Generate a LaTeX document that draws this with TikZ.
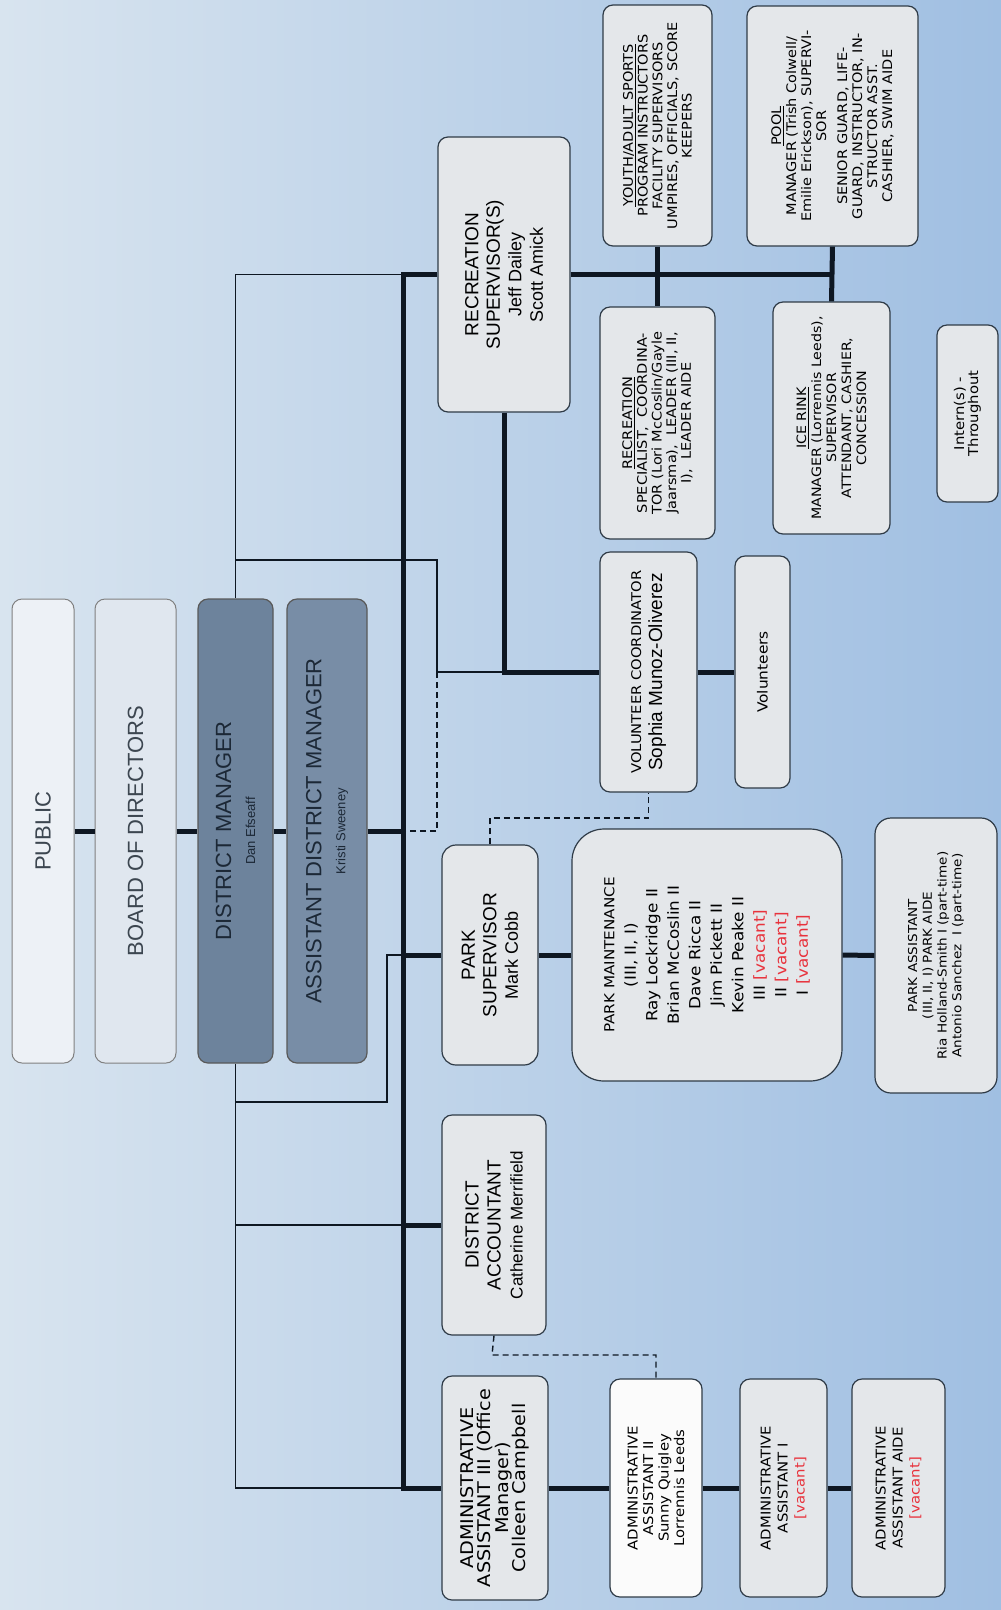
\documentclass[tikz,border=0pt]{standalone}
\usepackage{fontspec}
\setmainfont{Liberation Sans}
\newfontfamily\vf[FakeStretch=1.1]{DejaVu Sans}
\definecolor{bgL}{HTML}{D8E4EF}
\definecolor{bgR}{HTML}{A0BFE2}
\definecolor{lnk}{HTML}{0E1722}
\definecolor{bdr}{HTML}{2F3B47}
\definecolor{bfill}{HTML}{E4E7EA}
\definecolor{dmfill}{HTML}{6D839C}
\definecolor{admfill}{HTML}{788DA6}
\definecolor{pubfill}{HTML}{EDF1F6}
\definecolor{bodfill}{HTML}{E0E7EF}
\definecolor{pubtext}{HTML}{3C4650}
\definecolor{dmtext}{HTML}{1C2836}
\definecolor{vac}{HTML}{E8323C}
\newcommand\rt[3]{\rotatebox{90}{\parbox[c]{#1}{\centering\lineskiplimit=-50pt\lineskip=0pt\relax #2#3\par}}}
\tikzset{
  box/.style={draw=bdr, line width=1.2pt, fill=bfill, rounded corners=10pt, inner sep=0pt, text=black},
  topbox/.style={box, draw=black!50, line width=1pt},
  thick/.style={draw=lnk, line width=5pt},
  thin/.style={draw=lnk, line width=1.4pt},
  dsh/.style={draw=lnk, line width=1.4pt, dash pattern=on 6pt off 4pt}
}
\begin{document}
\begin{tikzpicture}[x=1pt,y=-1pt]
\useasboundingbox (0,0) rectangle (1001,1610);
\shade[left color=bgL, right color=bgR] (0,0) rectangle (1001,1610);

% top column
\node[topbox, fill=pubfill, minimum width=62pt, minimum height=464pt] (pub) at (43,831)
  {\rt{450pt}{\fontsize{22}{26}\selectfont\color{pubtext}}{PUBLIC}};
\node[topbox, fill=bodfill, minimum width=81pt, minimum height=464pt] (bod) at (135.5,831)
  {\rt{450pt}{\fontsize{22}{26}\selectfont\color{pubtext}}{BOARD OF DIRECTORS}};
\node[box, draw=black!65, fill=dmfill, minimum width=75pt, minimum height=464pt] (dm) at (235.5,831)
  {\rt{450pt}{\fontsize{22}{24}\selectfont\color{dmtext}}{DISTRICT MANAGER\\{\fontsize{13}{24}\selectfont Dan Efseaff}}};
\node[box, draw=black!65, fill=admfill, minimum width=80pt, minimum height=464pt] (adm) at (327,831)
  {\rt{450pt}{\fontsize{22}{24}\selectfont\color{dmtext}}{ASSISTANT DISTRICT MANAGER\\{\fontsize{13}{24}\selectfont Kristi Sweeney}}};

% recreation
\node[box, minimum width=132pt, minimum height=275pt] (rs) at (504,274.5)
  {\rt{265pt}{\fontsize{19}{21.5}\selectfont}{RECREATION\\SUPERVISOR(S)\\{\fontsize{18}{21.5}\selectfont Jeff Dailey}\\{\fontsize{18}{21.5}\selectfont Scott Amick}}};
\node[box, minimum width=109pt, minimum height=241pt] (yas) at (657.5,125.5)
  {\rt{236pt}{\vf\fontsize{13.2}{14.7}\selectfont}{\underline{YOUTH/ADULT SPORTS}\\PROGRAM INSTRUCTORS\\FACILITY SUPERVISORS\\UMPIRES, OFFICIALS, SCORE\\KEEPERS}};
\node[box, minimum width=171pt, minimum height=240pt] (pool) at (832.5,126)
  {\rt{236pt}{\vf\fontsize{13.2}{15}\selectfont}{\underline{POOL}\\MANAGER (Trish Colwell/\\Emilie Erickson), SUPERVI-\\SOR\\[6pt]SENIOR GUARD, LIFE-\\GUARD, INSTRUCTOR, IN-\\STRUCTOR ASST.\\CASHIER, SWIM AIDE}};
\node[box, minimum width=115pt, minimum height=232pt] (rec) at (657.5,423)
  {\rt{228pt}{\vf\fontsize{13.2}{14.7}\selectfont}{\underline{RECREATION}\\SPECIALIST,~ COORDINA-\\TOR (Lori McCoslin/Gayle\\Jaarsma),~ LEADER (III, II,\\I),~ LEADER AIDE}};
\node[box, minimum width=117pt, minimum height=232pt] (ice) at (831.5,418)
  {\rt{228pt}{\vf\fontsize{12.9}{15}\selectfont}{\underline{ICE RINK}\\MANAGER (Lorrennis Leeds),\\SUPERVISOR\\ATTENDANT, CASHIER,\\CONCESSION}};
\node[box, minimum width=61pt, minimum height=177pt] (intern) at (967.5,413.5)
  {\rt{170pt}{\vf\fontsize{13.5}{14}\selectfont}{Intern(s) -\\Throughout}};
\node[box, minimum width=97pt, minimum height=240pt] (vc) at (648.5,672)
  {\rt{234pt}{\vf\fontsize{13.4}{21}\selectfont}{VOLUNTEER COORDINATOR\\{\rmfamily\fontsize{19}{21}\selectfont Sophia Munoz-Oliverez}}};
\node[box, minimum width=55pt, minimum height=232pt] (vol) at (762.5,672)
  {\rt{226pt}{\vf\fontsize{14}{16}\selectfont}{Volunteers}};

% parks
\node[box, rounded corners=14pt, minimum width=96pt, minimum height=220pt] (ps) at (490,955)
  {\rt{214pt}{\fontsize{19}{21.5}\selectfont}{PARK\\SUPERVISOR\\{\fontsize{18}{21.5}\selectfont Mark Cobb}}};
\node[box, rounded corners=32pt, minimum width=270pt, minimum height=252pt] (pm) at (707,955)
  {\rt{244pt}{\vf\fontsize{15.3}{21.5}\selectfont}{{\fontsize{13.8}{21.5}\selectfont PARK MAINTENANCE}\\(III, II, I)\\Ray Lockridge II\\Brian McCoslin II\\Dave Ricca II\\Jim Pickett II\\Kevin Peake II\\III \textcolor{vac}{[vacant]}\\II \textcolor{vac}{[vacant]}\\I \textcolor{vac}{[vacant]}}};
\node[box, rounded corners=16pt, minimum width=122pt, minimum height=275pt] (pa) at (936,955.5)
  {\rt{268pt}{\vf\fontsize{12.3}{14.7}\selectfont}{PARK ASSISTANT\\(III, II, I) PARK AIDE\\Ria Holland-Smith I (part-time)\\Antonio Sanchez~ I (part-time)}};

% admin
\node[box, minimum width=104pt, minimum height=220pt] (da) at (494,1225)
  {\rt{214pt}{\fontsize{19}{22}\selectfont}{DISTRICT\\ACCOUNTANT\\{\fontsize{17}{22}\selectfont Catherine Merrifield}}};
\node[box, minimum width=106pt, minimum height=224pt] (aa3) at (495,1488)
  {\rt{220pt}{\vf\fontsize{17.5}{17.5}\selectfont}{ADMINISTRATIVE\\ASSISTANT III (Office\\Manager)\\Colleen Campbell}};
\node[box, fill=white!97!gray, minimum width=92pt, minimum height=218pt] (aa2) at (656,1488)
  {\rt{212pt}{\vf\fontsize{13.5}{15.5}\selectfont}{ADMINISTRATIVE\\ASSISTANT II\\Sunny Quigley\\Lorrennis Leeds}};
\node[box, minimum width=87pt, minimum height=218pt] (aa1) at (783.5,1488)
  {\rt{212pt}{\vf\fontsize{13.5}{17}\selectfont}{ADMINISTRATIVE\\ASSISTANT I\\\textcolor{vac}{[vacant]}}};
\node[box, minimum width=93pt, minimum height=218pt] (aide) at (898.5,1488)
  {\rt{212pt}{\vf\fontsize{13.5}{17}\selectfont}{ADMINISTRATIVE\\ASSISTANT AIDE\\\textcolor{vac}{[vacant]}}};

% spine coordinates
\coordinate (sptop) at (403,274.5);
\coordinate (spbot) at (403,1488);
\coordinate (k1) at (387,1102);
\coordinate (k2) at (437,560);
\coordinate (k3) at (490,818);
\coordinate (k4) at (492,1355);

% thick connectors
\draw[thick] (pub.east) -- (bod.west);
\draw[thick] (bod.east) -- (dm.west);
\draw[thick] (dm.east) -- (adm.west);
\draw[thick] (adm.east) -- (adm.east -| sptop);
\draw[thick, line join=miter] (rs.west) -| (spbot) -- (aa3.west);
\draw[thick] (ps.west -| sptop) -- (ps.west);
\draw[thick] (da.west -| sptop) -- (da.west);
\draw[thick] (ps.east) -- (pm.west);
\draw[thick] (pm.east) -- (pa.west);
\draw[thick] (rs.east) -- (rs.east -| pool.south);
\draw[thick] (yas.south) -- (rec.north);
\draw[thick] (pool.south) -- (ice.north);
\draw[thick, line join=miter] (rs.south) |- (vc.west);
\draw[thick] (vc.east) -- (vol.west);
\draw[thick] (aa3.east) -- (aa2.west);
\draw[thick] (aa2.east) -- (aa1.west);
\draw[thick] (aa1.east) -- (aide.west);

% thin connectors
\draw[thin] (dm.north) |- (sptop);
\draw[thin] (dm.south) |- (spbot);
\draw[thin] (dm.south |- da.west) -- (da.west -| sptop);
\draw[thin] (dm.south |- k1) -- (k1) -- (k1 |- ps.west) -- (ps.west -| sptop);
\draw[thin] (dm.north |- k2) -- (k2) -- (k2 |- vc.west) -- (rs.south |- vc.west);

% dashed connectors
\draw[dsh] (k2 |- vc.west) -- (k2 |- adm.east) -- (adm.east -| sptop);
\draw[dsh] (ps.north) -- (k3) -| (vc.south);
\draw[dsh] (da.south) -- (k4) -| (aa2.north);
\end{tikzpicture}
\end{document}
